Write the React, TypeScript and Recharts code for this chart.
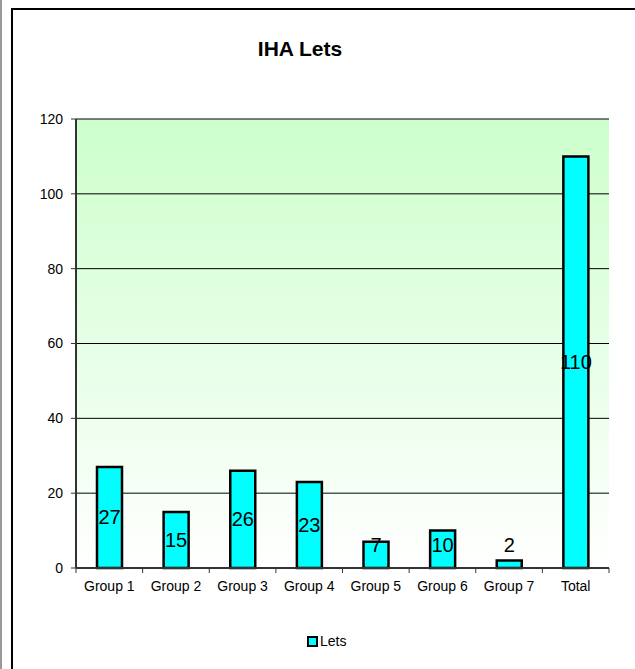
import React from "react";
import {
  BarChart,
  Bar,
  XAxis,
  YAxis,
  CartesianGrid,
  LabelList,
} from "recharts";

const categories = ["Group 1", "Group 2", "Group 3", "Group 4", "Group 5", "Group 6", "Group 7", "Total"];
const lets = [27, 15, 26, 23, 7, 10, 2, 110];
const yTicks = [0, 20, 40, 60, 80, 100, 120];

const data = categories.map((name, i) => ({ name, lets: lets[i] }));

const FONT = '"Liberation Sans", Arial, sans-serif';
const W = 635;
const H = 669;
const M = { top: 119, right: 26, bottom: 0, left: 0 };
const Y_WIDTH = 76;
const X_HEIGHT = 101;

function CategoryTick(props: any) {
  const { x, y, payload, index } = props;
  const half = payload && payload.offset ? payload.offset : (W - M.right - Y_WIDTH) / categories.length / 2;
  const cx = Number(x);
  const cy = Number(y);
  return (
    <g>
      <line x1={cx - half} x2={cx - half} y1={cy} y2={cy + 5} stroke="#333" strokeWidth={1} />
      {index === categories.length - 1 && (
        <line x1={cx + half} x2={cx + half} y1={cy} y2={cy + 5} stroke="#333" strokeWidth={1} />
      )}
      <text x={cx} y={cy + 19} textAnchor="middle" dominantBaseline="middle" fontSize={14} fontFamily={FONT} fill="#000">
        {payload.value}
      </text>
    </g>
  );
}

function ValueLabel(props: any) {
  const x = Number(props.x);
  const y = Number(props.y);
  const w = Number(props.width);
  const h = Number(props.height);
  // excel keeps the label off the axis for short bars
  const cy = Math.min(y + h / 2, y + h - 23);
  return (
    <text x={x + w / 2} y={cy} textAnchor="middle" dominantBaseline="central" fontSize={20} fontFamily={FONT} fill="#000">
      {props.value}
    </text>
  );
}

export default function App() {
  return (
    <div style={{ position: "absolute", left: 0, top: 0, width: W, height: H, background: "#fff", fontFamily: FONT }}>
      <div style={{ position: "absolute", left: 0, top: 0, width: 2, height: H, background: "#999" }} />
      <div
        style={{
          position: "absolute",
          left: 11,
          top: 8,
          width: W - 11,
          height: H - 8,
          borderLeft: "2px solid #000",
          borderTop: "2px solid #000",
          boxSizing: "border-box",
        }}
      />
      <div
        style={{
          position: "absolute",
          left: 0,
          top: 37,
          width: 600,
          textAlign: "center",
          fontSize: 21,
          fontWeight: "bold",
          color: "#000",
        }}
      >
        IHA Lets
      </div>
      <div style={{ position: "absolute", left: 0, top: 0 }}>
        <BarChart width={W} height={H} data={data} margin={M} barSize={25}>
          <defs>
            <linearGradient id="plotBg" x1="0" y1="0" x2="0" y2="1">
              <stop offset="0%" stopColor="#CCFFCC" />
              <stop offset="100%" stopColor="#FFFFFF" />
            </linearGradient>
          </defs>
          <CartesianGrid vertical={false} stroke="#000" strokeWidth={1} fill="url(#plotBg)" fillOpacity={1} />
          <XAxis
            dataKey="name"
            height={X_HEIGHT}
            interval={0}
            tickLine={false}
            tickSize={0}
            tickMargin={0}
            axisLine={{ stroke: "#333", strokeWidth: 2 }}
            tick={<CategoryTick />}
          />
          <XAxis xAxisId="top" orientation="top" height={0} dataKey="name" tick={false} tickLine={false} axisLine={{ stroke: "#888", strokeWidth: 2 }} />
          <YAxis
            width={Y_WIDTH}
            domain={[0, 120]}
            ticks={yTicks}
            interval={0}
            tickSize={5}
            tickMargin={8}
            tickLine={{ stroke: "#333" }}
            axisLine={{ stroke: "#333", strokeWidth: 2 }}
            tick={{ fill: "#000", fontSize: 14, fontFamily: FONT }}
          />
          <YAxis yAxisId="r" orientation="right" width={0} domain={[0, 120]} tick={false} tickLine={false} axisLine={{ stroke: "#888", strokeWidth: 2 }} />
          <Bar dataKey="lets" fill="#00FFFF" stroke="#000" strokeWidth={2.5} isAnimationActive={false}>
            <LabelList dataKey="lets" content={<ValueLabel />} />
          </Bar>
        </BarChart>
      </div>
      <div style={{ position: "absolute", left: 307, top: 633, display: "flex", alignItems: "center", fontSize: 14, color: "#000" }}>
        <span style={{ display: "inline-block", width: 7, height: 7, background: "#00FFFF", border: "2px solid #000", marginRight: 2 }} />
        Lets
      </div>
    </div>
  );
}
